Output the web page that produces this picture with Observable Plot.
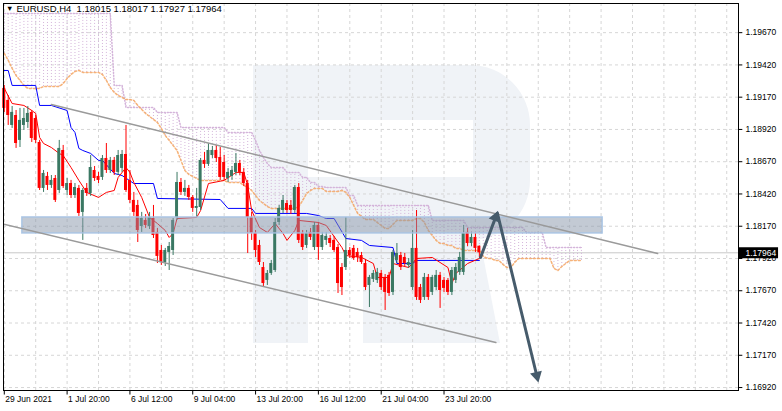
<!DOCTYPE html>
<html><head><meta charset="utf-8">
<script src="https://cdn.jsdelivr.net/npm/d3@7"></script>
<script src="https://cdn.jsdelivr.net/npm/@observablehq/plot@0.6"></script>
<style>
body{margin:0;background:#fff;}
#wrap{position:relative;width:782px;height:411px;overflow:hidden;font-family:"Liberation Sans",Arial,sans-serif;}
#wm,#chart{position:absolute;left:0;top:0;}
#title{position:absolute;left:6px;top:3px;font-size:9.5px;color:#000;white-space:pre;line-height:12px;}
#title .tri{font-size:7.5px;margin-right:3px;vertical-align:1px;}
</style></head><body>
<div id="wrap">
<svg id="wm" width="782" height="411"><path fill="#f0f3f7" fill-rule="evenodd" d="M253,65 H470 A60,60 0 0 1 530,125 V180 A60,60 0 0 1 470,240 H308 V343 H253 Z M308,120 V177 H473 V120 Z"/><path fill="#f0f3f7" d="M363,240 H480 L500,343 H363 Z"/></svg>
<div id="chart"></div>
<div id="title"><span class="tri">▼</span>EURUSD,H4  1.18015 1.18017 1.17927 1.17964</div>
</div>
<script>
// ---- data (EURUSD H4) ----
const xTickIdx = [0, 16, 32, 48, 64, 80, 96, 112];
const xTickLabels = ["29 Jun 2021", "1 Jul 20:00", "6 Jul 12:00", "9 Jul 04:00", "13 Jul 20:00", "16 Jul 12:00", "21 Jul 04:00", "23 Jul 20:00"];
const yTicks = [1.16920, 1.17170, 1.17420, 1.17670, 1.17920, 1.18170, 1.18420, 1.18670, 1.18920, 1.19170, 1.19420, 1.19670];
const lastPrice = 1.17964;

const open = [1.19238,1.19145,1.18951,1.19028,1.18835,1.18951,1.18974,1.19052,1.19005,1.18819,
1.18463,1.18556,1.18486,1.18540,1.18447,1.18757,1.18447,1.18501,1.18408,1.18463,
1.18277,1.18463,1.18424,1.18602,1.18556,1.18548,1.18695,1.18602,1.18680,1.18587,
1.18618,1.18726,1.18525,1.18370,1.18331,1.18168,1.18215,1.18168,1.18230,1.18122,
1.17982,1.17889,1.17967,1.17982,1.18238,1.18509,1.18432,1.18463,1.18393,1.18308,
1.18315,1.18680,1.18649,1.18718,1.18757,1.18703,1.18664,1.18540,1.18556,1.18587,
1.18656,1.18587,1.18501,1.18238,1.18114,1.18021,1.17850,1.17750,1.17804,1.17827,
1.18199,1.18292,1.18346,1.18331,1.18292,1.18470,1.18114,1.18021,1.18122,1.18005,
1.18176,1.18005,1.18060,1.18075,1.18060,1.18005,1.17850,1.17850,1.17982,1.17998,
1.17967,1.17943,1.17881,1.17711,1.17758,1.17750,1.17804,1.17773,1.17789,1.17657,
1.17905,1.17943,1.17928,1.17866,1.17695,1.17998,1.17695,1.17618,1.17773,1.17657,
1.17695,1.17789,1.17750,1.17750,1.17657,1.17750,1.17812,1.17812,1.18122,1.18036,
1.18083,1.18015];
const close = [1.19083,1.19028,1.19052,1.18811,1.18990,1.19005,1.19044,1.18850,1.18835,1.18463,
1.18579,1.18486,1.18525,1.18370,1.18773,1.18478,1.18501,1.18408,1.18470,1.18269,
1.18447,1.18424,1.18625,1.18540,1.18525,1.18695,1.18602,1.18680,1.18587,1.18718,
1.18726,1.18447,1.18370,1.18277,1.18137,1.18230,1.18176,1.18238,1.18098,1.17936,
1.17889,1.17982,1.18013,1.18215,1.18509,1.18432,1.18463,1.18393,1.18308,1.18323,
1.18680,1.18649,1.18757,1.18757,1.18695,1.18548,1.18548,1.18587,1.18602,1.18656,
1.18587,1.18501,1.18238,1.18114,1.17982,1.17889,1.17726,1.17804,1.17881,1.18199,
1.18308,1.18370,1.18292,1.18292,1.18470,1.18060,1.18005,1.18114,1.18083,1.18176,
1.18005,1.18098,1.18091,1.18036,1.17982,1.17726,1.17695,1.17982,1.17943,1.17920,
1.17928,1.17889,1.17695,1.17773,1.17804,1.17812,1.17695,1.17657,1.17649,1.17967,
1.17959,1.17850,1.17881,1.17889,1.17998,1.17618,1.17595,1.17773,1.17618,1.17773,
1.17789,1.17672,1.17688,1.17657,1.17827,1.17850,1.17928,1.18114,1.18036,1.18083,
1.17998,1.17964];
const high = [1.19261,1.19183,1.19098,1.19067,1.19083,1.19083,1.19098,1.19067,1.19028,1.18835,
1.18602,1.18587,1.18563,1.18563,1.18835,1.18796,1.18540,1.18525,1.18501,1.18486,
1.18463,1.18501,1.18718,1.18633,1.18587,1.18718,1.18811,1.18703,1.18703,1.18757,
1.18757,1.18951,1.18602,1.18432,1.18370,1.18277,1.18261,1.18277,1.18331,1.18153,
1.18021,1.17998,1.18044,1.18230,1.18587,1.18540,1.18525,1.18486,1.18408,1.18463,
1.18695,1.18742,1.18811,1.18788,1.18796,1.18780,1.18718,1.18618,1.18633,1.18734,
1.18680,1.18618,1.18525,1.18277,1.18137,1.18060,1.17889,1.17827,1.17905,1.18230,
1.18331,1.18408,1.18370,1.18370,1.18486,1.18501,1.18137,1.18137,1.18153,1.18199,
1.18199,1.18122,1.18122,1.18098,1.18091,1.18029,1.17881,1.18238,1.18005,1.18021,
1.17998,1.17967,1.17905,1.17789,1.17827,1.17843,1.17827,1.17796,1.17812,1.17982,
1.18036,1.17967,1.17959,1.17920,1.18137,1.18292,1.17719,1.17804,1.17796,1.17789,
1.17827,1.17812,1.17773,1.17765,1.17850,1.17881,1.17967,1.18176,1.18153,1.18122,
1.18114,1.18017];
const low = [1.19052,1.18951,1.18928,1.18773,1.18780,1.18912,1.18928,1.18819,1.18811,1.18447,
1.18432,1.18447,1.18463,1.18354,1.18424,1.18463,1.18408,1.18385,1.18385,1.18246,
1.18060,1.18401,1.18401,1.18517,1.18501,1.18525,1.18579,1.18579,1.18563,1.18563,
1.18587,1.18432,1.18346,1.18246,1.18044,1.18122,1.18153,1.18145,1.18075,1.17881,
1.17866,1.17858,1.17827,1.17943,1.18215,1.18408,1.18401,1.18370,1.18277,1.18238,
1.18292,1.18618,1.18633,1.18695,1.18664,1.18525,1.18525,1.18509,1.18525,1.18563,
1.18563,1.18478,1.17959,1.18060,1.17928,1.17866,1.17695,1.17711,1.17789,1.17812,
1.18176,1.18269,1.18269,1.18261,1.18269,1.18036,1.17982,1.17998,1.18060,1.17982,
1.17905,1.17982,1.18021,1.18005,1.17967,1.17649,1.17633,1.17827,1.17920,1.17905,
1.17889,1.17874,1.17672,1.17540,1.17734,1.17726,1.17672,1.17517,1.17626,1.17633,
1.17881,1.17827,1.17858,1.17843,1.17672,1.17595,1.17571,1.17595,1.17595,1.17633,
1.17672,1.17533,1.17657,1.17633,1.17633,1.17726,1.17789,1.17789,1.18013,1.18013,
1.17967,1.17927];

// Ichimoku: Senkou Span A / B per bar (shifted 26 bars ahead)
const spanA = [1.19509,1.19455,1.19393,1.19338,1.19300,1.19261,1.19238,1.19238,1.19238,1.19238,
1.19253,1.19253,1.19253,1.19253,1.19253,1.19276,1.19315,1.19346,1.19369,1.19377,
1.19362,1.19362,1.19362,1.19362,1.19362,1.19346,1.19300,1.19245,1.19207,1.19183,
1.19168,1.19152,1.19152,1.19145,1.19106,1.19075,1.19044,1.19021,1.18997,1.18974,
1.18928,1.18873,1.18835,1.18796,1.18757,1.18680,1.18602,1.18571,1.18556,1.18540,
1.18525,1.18525,1.18525,1.18525,1.18525,1.18525,1.18525,1.18509,1.18509,1.18509,
1.18509,1.18486,1.18470,1.18447,1.18408,1.18370,1.18346,1.18323,1.18308,1.18308,
1.18308,1.18308,1.18308,1.18308,1.18308,1.18323,1.18370,1.18424,1.18447,1.18463,
1.18463,1.18463,1.18439,1.18439,1.18439,1.18439,1.18447,1.18432,1.18393,1.18331,
1.18269,1.18246,1.18222,1.18222,1.18222,1.18199,1.18176,1.18153,1.18153,1.18184,
1.18215,1.18215,1.18215,1.18215,1.18215,1.18230,1.18230,1.18199,1.18137,1.18098,
1.18060,1.18036,1.18036,1.18021,1.18021,1.17998,1.17998,1.17982,1.17982,1.17982,
1.17982,1.17982,1.17936,1.17920,1.17920,1.17905,1.17905,1.17874,1.17850,1.17850,
1.17889,1.17920,1.17920,1.17920,1.17920,1.17920,1.17920,1.17920,1.17920,1.17920,
1.17843,1.17827,1.17858,1.17881,1.17905,1.17905,1.17905,1.17905];
const spanB = [1.19819,1.19819,1.19819,1.19819,1.19819,1.19819,1.19819,1.19819,1.19819,1.19819,
1.19819,1.19819,1.19819,1.19819,1.19819,1.19819,1.19819,1.19819,1.19819,1.19819,
1.19819,1.19819,1.19819,1.19819,1.19819,1.19819,1.19819,1.19819,1.19261,1.19261,
1.19261,1.19090,1.19090,1.19090,1.19090,1.19090,1.19090,1.19090,1.19090,1.19052,
1.19052,1.19052,1.19052,1.19052,1.19052,1.18935,1.18935,1.18935,1.18935,1.18935,
1.18935,1.18935,1.18935,1.18935,1.18935,1.18935,1.18935,1.18897,1.18897,1.18897,
1.18897,1.18897,1.18897,1.18897,1.18835,1.18757,1.18703,1.18656,1.18625,1.18625,
1.18625,1.18625,1.18587,1.18587,1.18587,1.18587,1.18548,1.18548,1.18509,1.18509,
1.18478,1.18478,1.18470,1.18470,1.18470,1.18470,1.18470,1.18470,1.18408,1.18408,
1.18331,1.18331,1.18331,1.18331,1.18331,1.18331,1.18331,1.18331,1.18331,1.18331,
1.18331,1.18331,1.18331,1.18331,1.18331,1.18331,1.18331,1.18331,1.18331,1.18215,
1.18215,1.18215,1.18215,1.18215,1.18215,1.18215,1.18215,1.18215,1.18160,1.18160,
1.18160,1.18160,1.18160,1.18160,1.18160,1.18160,1.18160,1.18160,1.18160,1.18160,
1.18160,1.18160,1.18160,1.18122,1.18122,1.18122,1.18122,1.18122,1.18005,1.18005,
1.18005,1.18005,1.18005,1.18005,1.18005,1.18005,1.18005,1.18005];
// Tenkan-sen and Kijun-sen vertices [bar, price]
const tenkan = [[0,1.19238],[2,1.19121],[5,1.19106],[7,1.19067],[8,1.19044],[9,1.18858],[10,1.18811],[12,1.18780],[14,1.18734],[15,1.18718],[17,1.18625],[19,1.18525],[21,1.18432],[24,1.18393],[26,1.18432],[28,1.18447],[29,1.18548],[31,1.18625],[32,1.18587],[33,1.18509],[35,1.18393],[37,1.18238],[39,1.18191],[41,1.18137],[42,1.18083],[43,1.18114],[44,1.18230],[49,1.18238],[50,1.18292],[52,1.18501],[56,1.18525],[59,1.18587],[61,1.18587],[62,1.18486],[63,1.18292],[65,1.18160],[67,1.18122],[69,1.18191],[71,1.18114],[72,1.18060],[74,1.18137],[75,1.18215],[80,1.18199],[82,1.18176],[86,1.18005],[87,1.17943],[91,1.17928],[94,1.17881],[95,1.17773],[98,1.17773],[99,1.17881],[103,1.17850],[105,1.17920],[109,1.17928],[113,1.17850],[114,1.17726],[115,1.17804],[118,1.17881],[121,1.17920]];
const kijun = [[0,1.19377],[1,1.19377],[2,1.19261],[8,1.19261],[9,1.19106],[12,1.19106],[16,1.19067],[17,1.18935],[18,1.18897],[19,1.18773],[20,1.18757],[22,1.18734],[24,1.18680],[25,1.18680],[28,1.18579],[30,1.18563],[33,1.18501],[38,1.18501],[39,1.18385],[55,1.18377],[57,1.18308],[63,1.18308],[64,1.18269],[77,1.18269],[80,1.18253],[82,1.18230],[84,1.18230],[87,1.18075],[91,1.18060],[93,1.18021],[99,1.18005],[100,1.17881],[104,1.17881],[105,1.17905],[121,1.17905]];

// Drawings
const zone = [{x1: 4.6, x2: 152.4, y1: 1.18238, y2: 1.18114}];
const channelTop = [[12, 1.19114], [166.4, 1.17959]];
const channelBottom = [[-0.76, 1.18191], [125.2, 1.17269]];
const arrowUp = [[121.3, 1.17928], [125.4, 1.18260]];
const arrowDown = [[125.6, 1.18270], [135.8, 1.16990]];

// ---- chart ----
const xDomain = [-0.2, 187];
const yDomain = [1.16897, 1.19896];
const W = 782, H = 411, mL = 3, mR = 44, mT = 3, mB = 21;
const sx = Plot.scale({x: {domain: xDomain, range: [mL, W - mR]}});
const sy = Plot.scale({y: {domain: yDomain, range: [H - mB, mT]}});

const candles = open.map((o, i) => ({i, open: o, high: high[i], low: low[i], close: close[i]}));
const bull = "#3a7863", bear = "#ff0000";
const col = d => d.close >= d.open ? bull : bear;
const cloud = spanA.map((a, i) => ({i, a, b: spanB[i]}));
const xGrid = d3.range(0, 188, 8);

function head(seg) {
  const [p0, p1] = seg;
  const x0 = sx.apply(p0[0]), y0 = sy.apply(p0[1]), x1 = sx.apply(p1[0]), y1 = sy.apply(p1[1]);
  const L = Math.hypot(x1 - x0, y1 - y0), ux = (x1 - x0) / L, uy = (y1 - y0) / L;
  return {x: p1[0], y: p1[1], rot: Math.atan2(ux, -uy) * 180 / Math.PI, dx: -ux * 3, dy: -uy * 3};
}
const hUp = head(arrowUp), hDown = head(arrowDown);
const arrowCol = "#465b6b";

const chart = Plot.plot({
  width: W, height: H,
  marginLeft: mL, marginRight: mR, marginTop: mT, marginBottom: mB,
  x: {domain: xDomain, axis: null},
  y: {domain: yDomain, axis: null},
  color: {type: "identity"},
  style: {background: "transparent", fontFamily: "'Liberation Sans', Arial, sans-serif", fontSize: "8.5px", color: "black", overflow: "visible"},
  marks: [
    Plot.ruleY(yTicks, {y: d => d, stroke: "#d6d6d6", strokeDasharray: "3,3"}),
    Plot.ruleX(xGrid, {x: d => d, stroke: "#d6d6d6", strokeDasharray: "3,3"}),
    Plot.ruleY([lastPrice], {y: d => d, stroke: "#c8c8c8"}),
    // cloud hatching
    Plot.ruleX(cloud, {x: "i", y1: "a", y2: "b", stroke: "#d4b4da", strokeDasharray: "1,2"}),
    Plot.line(cloud, {x: "i", y: "b", stroke: "#d4b4da", strokeDasharray: "1,2"}),
    Plot.line(cloud, {x: "i", y: "a", stroke: "#f4a460", strokeOpacity: 0.85, strokeDasharray: "2,2"}),
    // tenkan / kijun
    Plot.line(kijun, {x: d => d[0], y: d => d[1], stroke: "#0000ff", strokeWidth: 1}),
    Plot.line(tenkan, {x: d => d[0], y: d => d[1], stroke: "#ff0000", strokeWidth: 1}),
    // candles
    Plot.ruleX(candles, {x: "i", y1: "low", y2: "high", stroke: col}),
    Plot.rect(candles, {x1: d => d.i - 0.38, x2: d => d.i + 0.38, y1: "open", y2: "close", fill: col}),
    // horizontal zone
    Plot.rect(zone, {x1: "x1", x2: "x2", y1: "y1", y2: "y2", fill: "#8796a9", fillOpacity: 0.5, stroke: "#a6c3e4", strokeWidth: 1.5, strokeOpacity: 0.9}),
    // channel
    Plot.line(channelTop, {x: d => d[0], y: d => d[1], stroke: "#9a9a9a", strokeWidth: 1.5, clip: true}),
    Plot.line(channelBottom, {x: d => d[0], y: d => d[1], stroke: "#9a9a9a", strokeWidth: 1.5, clip: true}),
    // arrows
    Plot.line(arrowUp, {x: d => d[0], y: d => d[1], stroke: arrowCol, strokeWidth: 3}),
    Plot.line(arrowDown, {x: d => d[0], y: d => d[1], stroke: arrowCol, strokeWidth: 3}),
    Plot.dot([hUp], {x: "x", y: "y", symbol: "triangle", r: 4.5, fill: arrowCol, rotate: "rot", dx: hUp.dx, dy: hUp.dy}),
    Plot.dot([hDown], {x: "x", y: "y", symbol: "triangle", r: 4.5, fill: arrowCol, rotate: "rot", dx: hDown.dx, dy: hDown.dy}),
    // frame & axes
    Plot.frame({stroke: "black"}),
    Plot.ruleY(yTicks, {y: d => d, x1: xDomain[1], x2: xDomain[1] + 1.1, stroke: "black"}),
    Plot.text(yTicks, {y: d => d, x: xDomain[1], dx: 7, text: d => d.toFixed(5), textAnchor: "start", fill: "black"}),
    Plot.ruleX(xTickIdx, {x: d => d, y1: yDomain[0], y2: yDomain[0] - 0.00035, stroke: "black"}),
    Plot.text(xTickIdx, {x: d => d, y: yDomain[0], text: (d, i) => xTickLabels[i], dx: 1, dy: 8.5, textAnchor: "start", fill: "black"}),
    // current price label
    Plot.ruleY([lastPrice], {y: d => d, x1: xDomain[1], x2: xDomain[1] + 10.2, stroke: "black", strokeWidth: 11}),
    Plot.text([lastPrice], {y: d => d, x: xDomain[1], dx: 7, text: d => d.toFixed(5), textAnchor: "start", fill: "white"})
  ]
});
document.getElementById("chart").appendChild(chart);
</script>
</body></html>
